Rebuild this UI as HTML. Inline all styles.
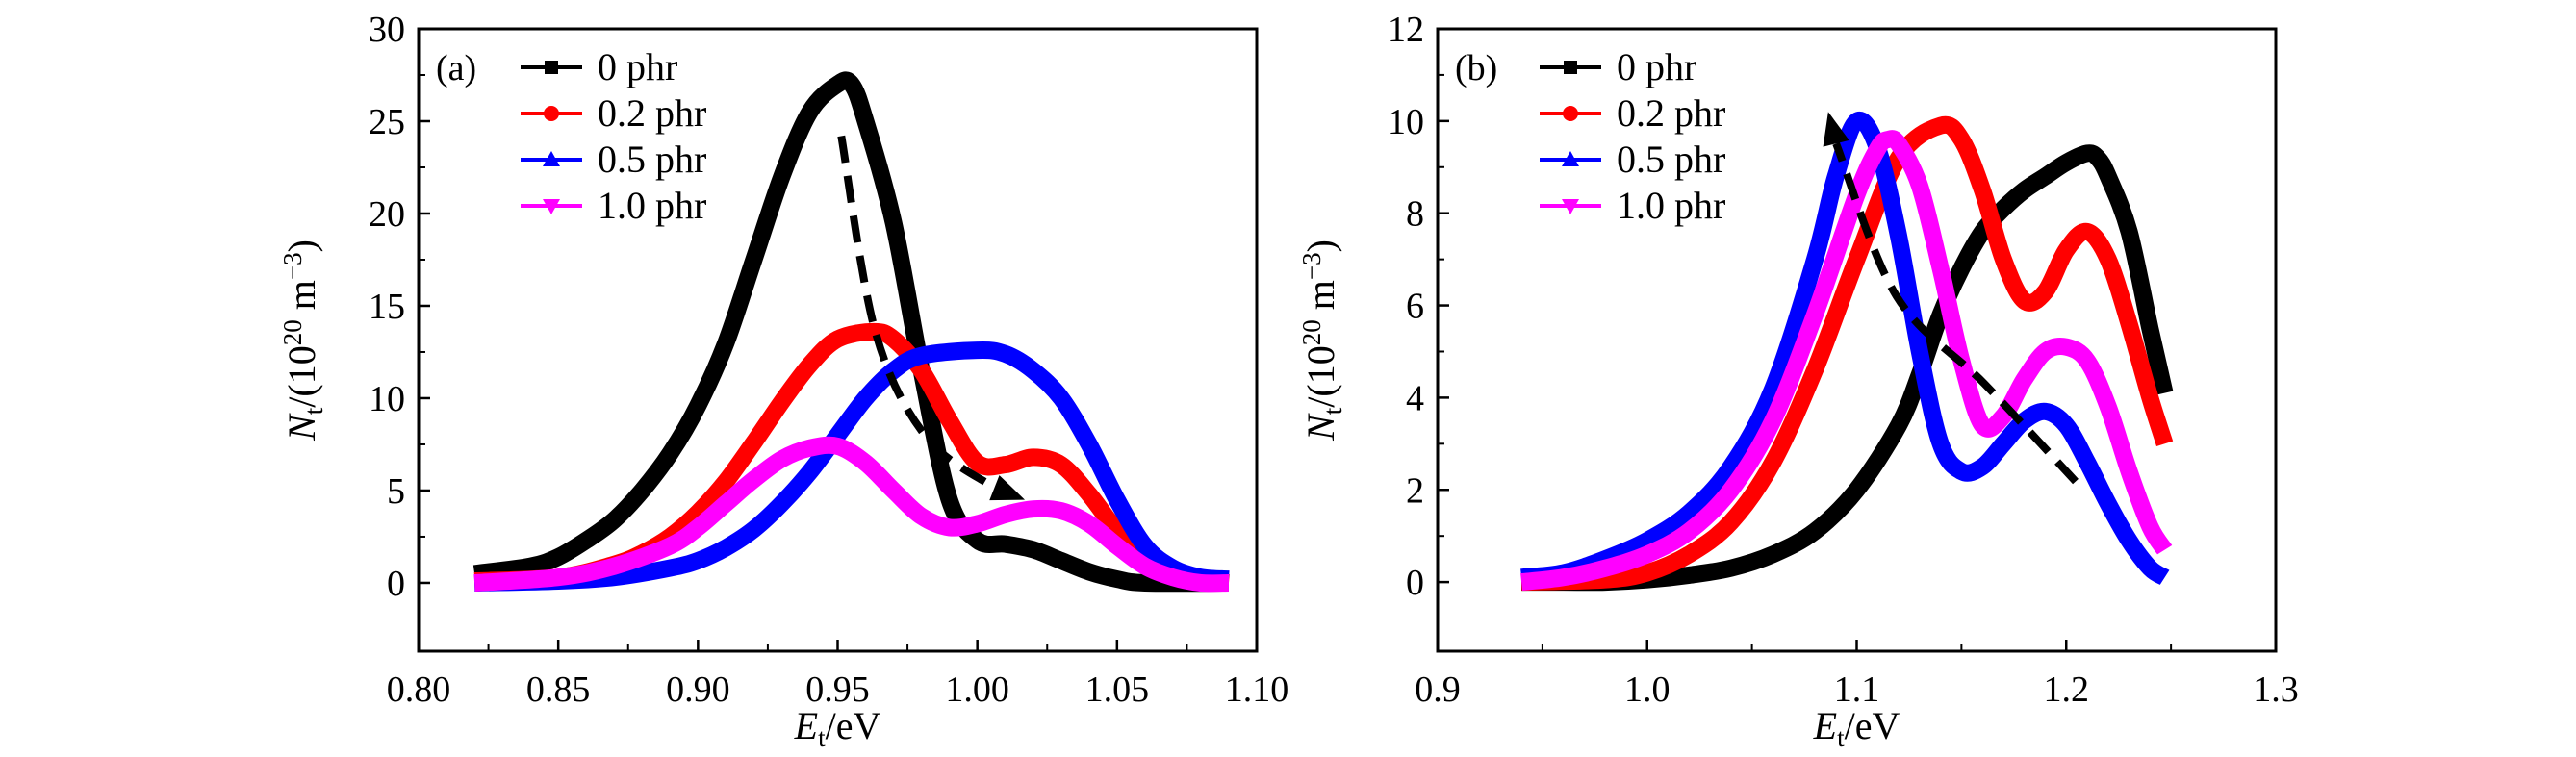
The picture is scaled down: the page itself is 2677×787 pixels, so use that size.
<!DOCTYPE html>
<html><head><meta charset="utf-8"><style>
body{margin:0;background:#fff}
svg{display:block}
text{font-family:"Liberation Serif",serif;fill:#000}
</style></head><body>
<svg id="chart" width="2677" height="787" viewBox="0 0 2677 787" xmlns="http://www.w3.org/2000/svg"></svg>
<script>
// Panel (a)
const aX0=[0.82,0.84,0.85,0.86,0.87,0.88,0.89,0.90,0.91,0.92,0.93,0.94,0.95,0.955,0.96,0.97,0.98,0.99,1.00,1.01,1.02,1.03,1.04,1.05,1.06,1.09];
const aY0=[0.5,0.9,1.4,2.3,3.4,5,7,9.6,13,17.5,22,25.5,27,27,25,19.5,11.5,4.5,2.3,2.1,1.8,1.2,0.6,0.2,0,0];
const aX02=[0.82,0.85,0.87,0.88,0.89,0.90,0.91,0.92,0.93,0.94,0.95,0.963,0.97,0.98,0.99,1.00,1.01,1.02,1.03,1.04,1.05,1.06,1.07,1.08,1.09];
const aY02=[0.1,0.3,1.0,1.6,2.5,3.8,5.5,7.6,9.8,11.8,13.2,13.6,13.2,11.5,8.8,6.5,6.4,6.8,6.4,4.8,2.8,1.2,0.4,0.1,0];
const aX05=[0.82,0.85,0.87,0.89,0.90,0.91,0.92,0.93,0.94,0.95,0.96,0.97,0.98,1.00,1.01,1.02,1.03,1.04,1.05,1.06,1.07,1.08,1.09];
const aY05=[0,0.1,0.3,0.8,1.2,1.9,2.9,4.3,6.0,8.0,10,11.5,12.3,12.6,12.4,11.5,10,7.5,4.5,2.0,0.8,0.3,0.2];
const aX10=[0.82,0.85,0.87,0.89,0.90,0.91,0.92,0.93,0.94,0.95,0.96,0.97,0.98,0.99,1.00,1.01,1.02,1.03,1.04,1.05,1.06,1.07,1.08,1.09];
const aY10=[0,0.3,0.9,2.0,3.0,4.3,5.6,6.7,7.3,7.4,6.5,5.0,3.6,3.0,3.2,3.7,4.0,3.9,3.2,2.0,0.9,0.3,0,0];
const aArrowX=[0.9513,0.9635,0.9817,1.0036,1.017];
const aArrowY=[24.2,13.6,7.9,5.3,4.5];
const aXTicks=[0.80,0.85,0.90,0.95,1.00,1.05,1.10];
const aYTicks=[0,5,10,15,20,25,30];
// Panel (b)
const bX0=[0.94,0.96,0.98,1.00,1.02,1.04,1.06,1.08,1.10,1.12,1.13,1.14,1.15,1.16,1.17,1.18,1.19,1.20,1.21,1.215,1.22,1.23,1.24,1.247];
const bY0=[0,0,0,0.05,0.15,0.3,0.6,1.1,2.0,3.4,4.5,5.8,6.8,7.6,8.1,8.5,8.8,9.1,9.3,9.2,8.8,7.6,5.5,4.1];
const bX02=[0.94,0.98,1.00,1.02,1.04,1.06,1.08,1.10,1.12,1.14,1.15,1.16,1.17,1.18,1.19,1.20,1.21,1.22,1.23,1.24,1.247];
const bY02=[0,0.05,0.2,0.6,1.3,2.6,4.6,7.0,9.2,9.9,9.6,8.5,7.0,6.1,6.3,7.2,7.6,7.0,5.6,4.0,3.0];
const bX05=[0.94,0.96,0.98,1.00,1.02,1.04,1.06,1.08,1.09,1.10,1.11,1.12,1.13,1.14,1.15,1.16,1.17,1.18,1.19,1.20,1.21,1.22,1.23,1.24,1.247];
const bY05=[0.1,0.2,0.5,0.9,1.5,2.5,4.2,7.0,8.8,10.0,9.4,7.5,5.0,3.0,2.4,2.5,3.0,3.5,3.7,3.4,2.6,1.7,0.9,0.3,0.1];
const bX10=[0.94,0.96,0.98,1.00,1.02,1.04,1.06,1.08,1.10,1.11,1.115,1.12,1.13,1.14,1.15,1.16,1.17,1.18,1.19,1.20,1.21,1.22,1.23,1.24,1.247];
const bY10=[0,0.1,0.3,0.6,1.1,2.0,3.5,5.8,8.4,9.4,9.6,9.5,8.6,6.8,4.8,3.4,3.6,4.4,5.0,5.1,4.8,3.8,2.4,1.2,0.7];
const bArrowX=[1.2045,1.161,1.119,1.093,1.0864];
const bArrowY=[2.18,4.3,6.2,9.0,10.2];
const bXTicks=[0.9,1.0,1.1,1.2,1.3];
const bYTicks=[0,2,4,6,8,10,12];
const seriesNames=["0 phr","0.2 phr","0.5 phr","1.0 phr"];
const colors=["#000","#f00","#00f","#f0f"];

const NS="http://www.w3.org/2000/svg";
const svg=document.getElementById('chart');
function mk(tag,attrs,parent){const e=document.createElementNS(NS,tag);for(const k in attrs)e.setAttribute(k,attrs[k]);(parent||svg).appendChild(e);return e;}
function smooth(P){
  let d='M'+P[0][0].toFixed(1)+','+P[0][1].toFixed(1);
  for(let i=0;i<P.length-1;i++){
    const p0=P[Math.max(0,i-1)],p1=P[i],p2=P[i+1],p3=P[Math.min(P.length-1,i+2)];
    const c1=[p1[0]+(p2[0]-p0[0])/6,p1[1]+(p2[1]-p0[1])/6];
    const c2=[p2[0]-(p3[0]-p1[0])/6,p2[1]-(p3[1]-p1[1])/6];
    d+=` C${c1[0].toFixed(1)},${c1[1].toFixed(1)} ${c2[0].toFixed(1)},${c2[1].toFixed(1)} ${p2[0].toFixed(1)},${p2[1].toFixed(1)}`;
  }
  return d;
}

function panel(cfg){
  const g=mk('g',{});
  
  
  const sx=v=>cfg.L+(v-cfg.xmin)/(cfg.xmax-cfg.xmin)*(cfg.R-cfg.L);
  const sy=v=>cfg.B-(v-cfg.ymin)/(cfg.ymax-cfg.ymin)*(cfg.B-cfg.T);
  const clip='clip-'+cfg.name;
  const cp=mk('clipPath',{id:clip},g);mk('rect',{x:cfg.L,y:cfg.T,width:cfg.R-cfg.L,height:cfg.B-cfg.T},cp);
  const sg=mk('g',{'clip-path':'url(#'+clip+')'},g);
  cfg.series.forEach((s,i)=>{
    const P=s[0].map((x,j)=>[sx(x),sy(s[1][j])]);
    const pl=mk('path',{d:smooth(P),fill:'none',stroke:colors[i],'stroke-width':18,'stroke-linejoin':'round','stroke-linecap':'butt'},sg);
    
    
  });
  const ax=cfg.arrow[0],ay=cfg.arrow[1];
  const n=ax.length;
  const x1=sx(ax[n-2]),y1=sy(ay[n-2]),x2=sx(ax[n-1]),y2=sy(ay[n-1]);
  const ang=Math.atan2(y2-y1,x2-x1),L=34,W=14;
  const bx=x2-L*Math.cos(ang),by=y2-L*Math.sin(ang);
  const AP=ax.slice(0,-1).map((x,j)=>[sx(x),sy(ay[j])]);
  AP[AP.length-1]=[bx,by];
  const ar=mk('path',{d:smooth(AP),fill:'none',stroke:'#000','stroke-width':8,'stroke-dasharray':'28,14'},g);
  
  
  const hd=mk('polygon',{points:`${x2},${y2} ${bx+W*Math.sin(ang)},${by-W*Math.cos(ang)} ${bx-W*Math.sin(ang)},${by+W*Math.cos(ang)}`,fill:'#000'},g);
  
  
  const fr=mk('rect',{x:cfg.L,y:cfg.T,width:cfg.R-cfg.L,height:cfg.B-cfg.T,fill:'none',stroke:'#000','stroke-width':3},g);
  
  
  cfg.xt.forEach((v,j)=>{
    const x=sx(v);
    mk('line',{x1:x,x2:x,y1:cfg.B,y2:cfg.B-12,stroke:'#000','stroke-width':2.5},g);
    if(j<cfg.xt.length-1){const xm=sx((v+cfg.xt[j+1])/2);mk('line',{x1:xm,x2:xm,y1:cfg.B,y2:cfg.B-7,stroke:'#000','stroke-width':2},g);}
    const t=mk('text',{x:x,y:cfg.B+52,'text-anchor':'middle','font-size':38},g);t.textContent=cfg.xfmt(v);
    
    
  });
  cfg.yt.forEach((v,j)=>{
    const y=sy(v);
    mk('line',{x1:cfg.L,x2:cfg.L+12,y1:y,y2:y,stroke:'#000','stroke-width':2.5},g);
    if(j<cfg.yt.length-1){const ym=sy((v+cfg.yt[j+1])/2);mk('line',{x1:cfg.L,x2:cfg.L+7,y1:ym,y2:ym,stroke:'#000','stroke-width':2},g);}
    const t=mk('text',{x:cfg.L-14,y:y+13,'text-anchor':'end','font-size':38},g);t.textContent=v;
    
    
  });
  const xt=mk('text',{x:(cfg.L+cfg.R)/2,y:768,'text-anchor':'middle','font-size':40},g);
  xt.innerHTML='<tspan font-style="italic">E</tspan><tspan font-size="27" dy="8">t</tspan><tspan dy="-8">/eV</tspan>';
  
  
  const yt=mk('text',{x:0,y:0,'text-anchor':'middle','font-size':40,transform:`translate(${cfg.L-108},${(cfg.T+cfg.B)/2}) rotate(-90)`},g);
  yt.innerHTML='<tspan font-style="italic">N</tspan><tspan font-size="27" dy="8">t</tspan><tspan dy="-8">/(10</tspan><tspan font-size="27" dy="-14">20</tspan><tspan dy="14"> m</tspan><tspan font-size="27" dy="-14">−3</tspan><tspan dy="14">)</tspan>';
  
  
  const pl=mk('text',{x:cfg.L+18,y:cfg.T+53,'font-size':38},g);pl.textContent=cfg.label;
  
  
  seriesNames.forEach((nm,i)=>{
    const y=cfg.T+40+i*48;
    const lg=mk('g',{},g);
    
    
    mk('line',{x1:cfg.L+106,x2:cfg.L+170,y1:y,y2:y,stroke:colors[i],'stroke-width':4},lg);
    const cx=cfg.L+138;
    if(i===0)mk('rect',{x:cx-7,y:y-7,width:14,height:14,fill:colors[i]},lg);
    if(i===1)mk('circle',{cx:cx,cy:y,r:8,fill:colors[i]},lg);
    if(i===2)mk('polygon',{points:`${cx},${y-9} ${cx-9},${y+7} ${cx+9},${y+7}`,fill:colors[i]},lg);
    if(i===3)mk('polygon',{points:`${cx},${y+9} ${cx-9},${y-7} ${cx+9},${y-7}`,fill:colors[i]},lg);
    const t=mk('text',{x:cfg.L+186,y:y+13,'font-size':40},lg);t.textContent=nm;
  });
}
panel({name:'panel-a',L:435,R:1306,T:30,B:677,xmin:0.8,xmax:1.1,ymin:-3.7,ymax:30,xt:aXTicks,yt:aYTicks,xfmt:v=>v.toFixed(2),label:'(a)',
  series:[[aX0,aY0],[aX02,aY02],[aX05,aY05],[aX10,aY10]],arrow:[aArrowX,aArrowY]});
panel({name:'panel-b',L:1494,R:2365,T:30,B:677,xmin:0.9,xmax:1.3,ymin:-1.5,ymax:12,xt:bXTicks,yt:bYTicks,xfmt:v=>v.toFixed(1),label:'(b)',
  series:[[bX0,bY0],[bX02,bY02],[bX05,bY05],[bX10,bY10]],arrow:[bArrowX,bArrowY]});
</script>
</body></html>
